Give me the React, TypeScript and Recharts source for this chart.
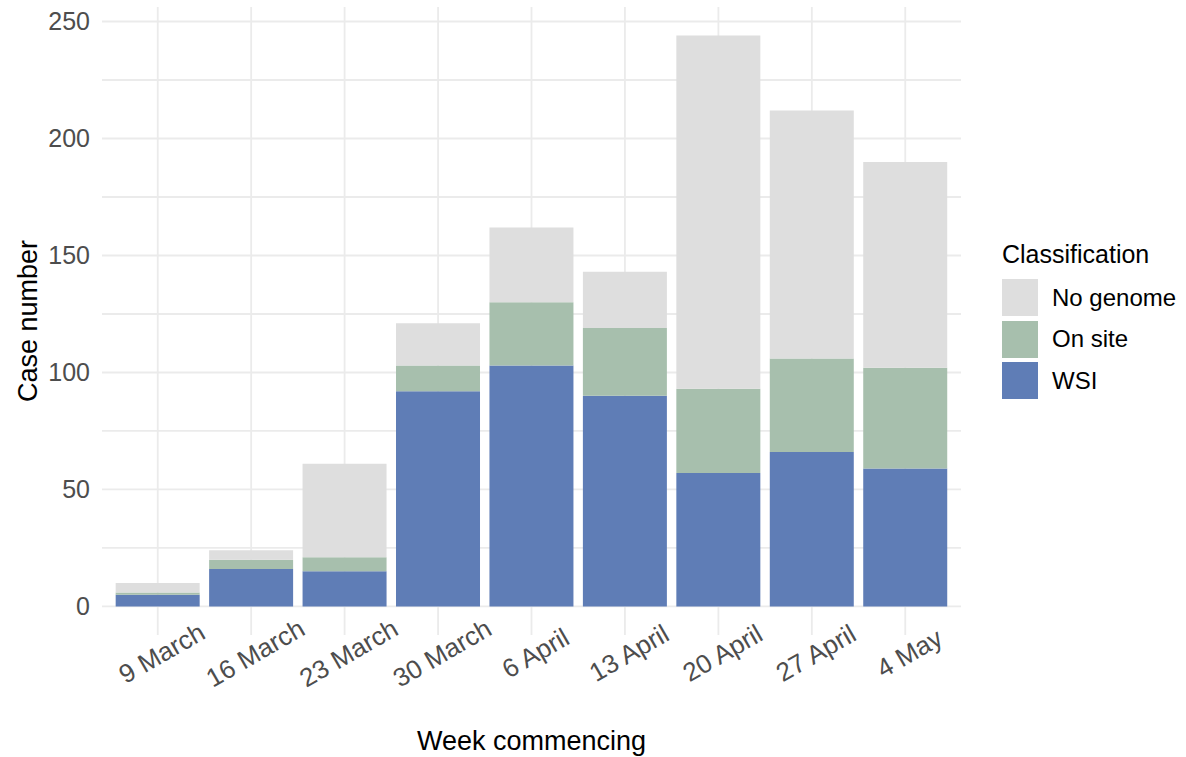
import { BarChart, Bar, XAxis, YAxis, CartesianGrid, Legend } from "recharts";

const weeks = ["9 March", "16 March", "23 March", "30 March", "6 April", "13 April", "20 April", "27 April", "4 May"];
const wsi = [5, 16, 15, 92, 103, 90, 57, 66, 59];
const onSite = [1, 4, 6, 11, 27, 29, 36, 40, 43];
const noGenome = [4, 4, 40, 18, 32, 24, 151, 106, 88];
const yTicks = [0, 25, 50, 75, 100, 125, 150, 175, 200, 225, 250];

const data = weeks.map((week, i) => ({
    week,
    wsi: wsi[i],
    onSite: onSite[i],
    noGenome: noGenome[i],
}));

const legendItems = [
    { label: "No genome", color: "#dedede" },
    { label: "On site", color: "#a7bfad" },
    { label: "WSI", color: "#5f7db6" },
];

const font = "'Liberation Sans', Arial, sans-serif";

const WeekTick = ({ x, y, payload }: any) => (
    <g transform={`translate(${x + 4},${y + 10})`}>
        <text x={0} y={0} dy="0.35em" textAnchor="middle" transform="rotate(-30)" fill="#4d4d4d" fontSize={26} fontFamily={font}>
            {payload.value}
        </text>
    </g>
);

const LegendBox = () => (
    <div style={{ fontFamily: font }}>
        <div style={{ fontSize: 25, lineHeight: "25px", color: "#000", marginBottom: 10 }}>Classification</div>
        {legendItems.map((it) => (
            <div key={it.label} style={{ display: "flex", alignItems: "center", height: 41.5 }}>
                <div style={{ width: 36, height: 37, background: it.color }} />
                <span style={{ marginLeft: 14, fontSize: 24, color: "#000" }}>{it.label}</span>
            </div>
        ))}
    </div>
);

export default function App() {
    return (
        <div style={{ position: "absolute", left: 0, top: 0, background: "#fff" }}>
            <BarChart width={1186} height={757} data={data} barCategoryGap="5%" margin={{ top: 7, right: 225, bottom: 0, left: 0 }}>
                {/* syncWithTicks: no border lines at the panel edges */}
                <CartesianGrid stroke="#ebebeb" strokeWidth={1.8} syncWithTicks />
                <XAxis
                    dataKey="week"
                    height={122}
                    padding={{ left: 9, right: 9 }}
                    axisLine={false}
                    tickLine={false}
                    tickSize={0}
                    tickMargin={8}
                    interval={0}
                    tick={<WeekTick />}
                    label={{ value: "Week commencing", position: "insideBottom", offset: 7, fill: "#000", fontSize: 27, fontFamily: font }}
                />
                <YAxis
                    width={102}
                    domain={[-12.2, 256.2]}
                    ticks={yTicks}
                    tickFormatter={(v: number) => (v % 50 === 0 ? String(v) : "")}
                    axisLine={false}
                    tickLine={false}
                    tickSize={0}
                    tickMargin={12}
                    tick={{ fill: "#4d4d4d", fontSize: 25, fontFamily: font }}
                    label={{
                        value: "Case number",
                        angle: -90,
                        position: "insideLeft",
                        offset: 27,
                        fill: "#000",
                        fontSize: 27,
                        fontFamily: font,
                        style: { textAnchor: "middle" },
                    }}
                />
                <Legend
                    layout="vertical"
                    align="center"
                    verticalAlign="middle"
                    content={<LegendBox />}
                    wrapperStyle={{ left: 1002, top: 242, width: 184 }}
                />
                <Bar dataKey="wsi" stackId="a" fill="#5f7db6" isAnimationActive={false} />
                <Bar dataKey="onSite" stackId="a" fill="#a7bfad" isAnimationActive={false} />
                <Bar dataKey="noGenome" stackId="a" fill="#dedede" isAnimationActive={false} />
            </BarChart>
        </div>
    );
}
